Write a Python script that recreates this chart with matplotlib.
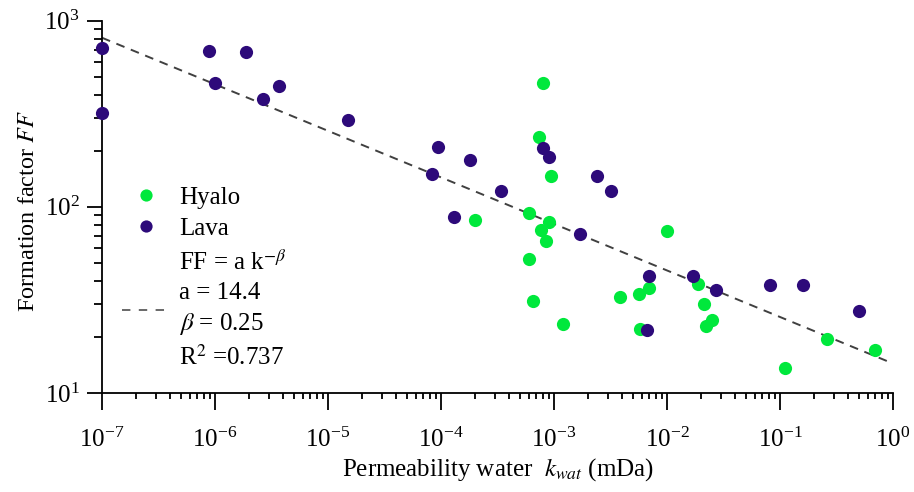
import numpy as np
import matplotlib
matplotlib.use("Agg")
import matplotlib.pyplot as plt
from matplotlib.lines import Line2D

plt.rcParams['font.family'] = ['Liberation Serif', 'DejaVu Serif']
plt.rcParams['mathtext.fontset'] = 'stix'

# Data
hyalo_k = [8.05e-4, 7.43e-4, 9.5e-4, 2.01e-4, 6.0e-4, 9.1e-4, 7.6e-4, 8.5e-4, 6.0e-4,
           6.5e-4, 1.2e-3, 1.007e-2, 3.81e-3, 5.6e-3, 7.0e-3, 5.8e-3, 1.9e-2, 2.11e-2,
           2.5e-2, 2.21e-2, 0.110, 0.261, 0.70]
hyalo_ff = [460, 236, 147, 84.5, 92.5, 83, 75.2, 65.6, 52.7,
            31.1, 23.5, 74.6, 32.6, 33.9, 36.7, 22.2, 38.7, 29.9,
            24.7, 22.9, 13.7, 19.5, 17.0]

lava_k = [1e-7, 1e-7, 8.9e-7, 1.89e-6, 1.01e-6, 2.64e-6, 3.7e-6, 1.5e-5, 9.5e-5,
          8.4e-5, 1.31e-4, 1.79e-4, 3.42e-4, 8.0e-4, 9.1e-4, 2.41e-3, 3.18e-3,
          1.71e-3, 7.0e-3, 1.71e-2, 2.69e-2, 6.65e-3, 0.081, 0.161, 0.503]
lava_ff = [716, 320, 690, 681, 460, 378, 444, 294, 210,
           150, 88, 178, 121, 207, 186, 146, 122,
           71.6, 42.4, 42.4, 35.6, 21.8, 37.9, 37.8, 27.7]

x_ticks = [1e-7, 1e-6, 1e-5, 1e-4, 1e-3, 1e-2, 1e-1, 1e0]
y_ticks = [10, 100, 1000]

fit_a = 14.4
fit_beta = 0.25
fit_r2 = 0.737
fit_k = np.logspace(-7, 0, 50)

green = '#00e83c'
purple = '#2d0a7a'

fig = plt.figure(figsize=(9.14, 4.92), dpi=100)
ax = fig.add_axes([102/914, 1-393/492, (893-102)/914, (393-20.7)/492])

ax.plot(fit_k, fit_a * fit_k ** (-fit_beta), ls=(0, (4.5, 3.5)), color='#404040', lw=1.4, zorder=1)
ax.plot(hyalo_k, hyalo_ff, 'o', color=green, ms=9.5, mec='none', zorder=3, clip_on=False)
ax.plot(lava_k, lava_ff, 'o', color=purple, ms=9.5, mec='none', zorder=3, clip_on=False)

ax.set_xscale('log')
ax.set_yscale('log')
ax.set_xticks(x_ticks)
ax.set_yticks(y_ticks)
ax.set_xlim(1e-7, 1)
ax.set_ylim(10, 1000)

for s in ['top', 'right']:
    ax.spines[s].set_visible(False)
for s in ['left', 'bottom']:
    ax.spines[s].set_linewidth(1.3)

ax.tick_params(axis='x', which='major', direction='out', length=12, width=1.3, labelsize=18, pad=13)
ax.tick_params(axis='x', which='minor', direction='out', length=4.5, width=1.3)
ax.tick_params(axis='y', which='major', direction='out', length=11, width=1.3, labelsize=18, pad=5)
ax.tick_params(axis='y', which='minor', direction='out', length=6, width=1.3)
ax.yaxis.set_minor_formatter(matplotlib.ticker.NullFormatter())
ax.xaxis.set_minor_locator(matplotlib.ticker.LogLocator(base=10, subs=np.arange(2, 10), numticks=20))
ax.xaxis.set_minor_formatter(matplotlib.ticker.NullFormatter())

ax.set_xlabel(r'Permeability water  $k_{wat}$ (mDa)', fontsize=18, labelpad=3)
ax.set_ylabel(r'Formation factor $FF$', fontsize=17.5, labelpad=4)
ax.yaxis.label.set_y((393 - 211) / 372.3)

common = dict(frameon=False, fontsize=18, handlelength=1.92, handletextpad=0.36,
              borderpad=0.0, borderaxespad=0.0)

h1 = [Line2D([], [], ls='none', marker='o', color=green, ms=8.8, mec='none'),
      Line2D([], [], ls='none', marker='o', color=purple, ms=8.8, mec='none')]
leg1 = ax.legend(h1, ['Hyalo', 'Lava'], loc='center left',
                 bbox_to_anchor=((122-102)/791, (393-213)/372.3),
                 labelspacing=0.32, **common)
ax.add_artist(leg1)

h2 = [Line2D([], [], ls=(0, (5.5, 5.5)), color='#404040', lw=1.1)]
lab2 = ['FF = a k$^{-\\beta}$\na = %.1f\n$\\beta$ = %.2f\nR$^{2}$ =%.3f' % (fit_a, fit_beta, fit_r2)]
leg2 = ax.legend(h2, lab2, loc='center left',
                 bbox_to_anchor=((122-102)/791, (393-310)/372.3), **common)
for t in leg2.get_texts():
    t.set_linespacing(1.4)

fig.savefig('out.png', dpi=100)
